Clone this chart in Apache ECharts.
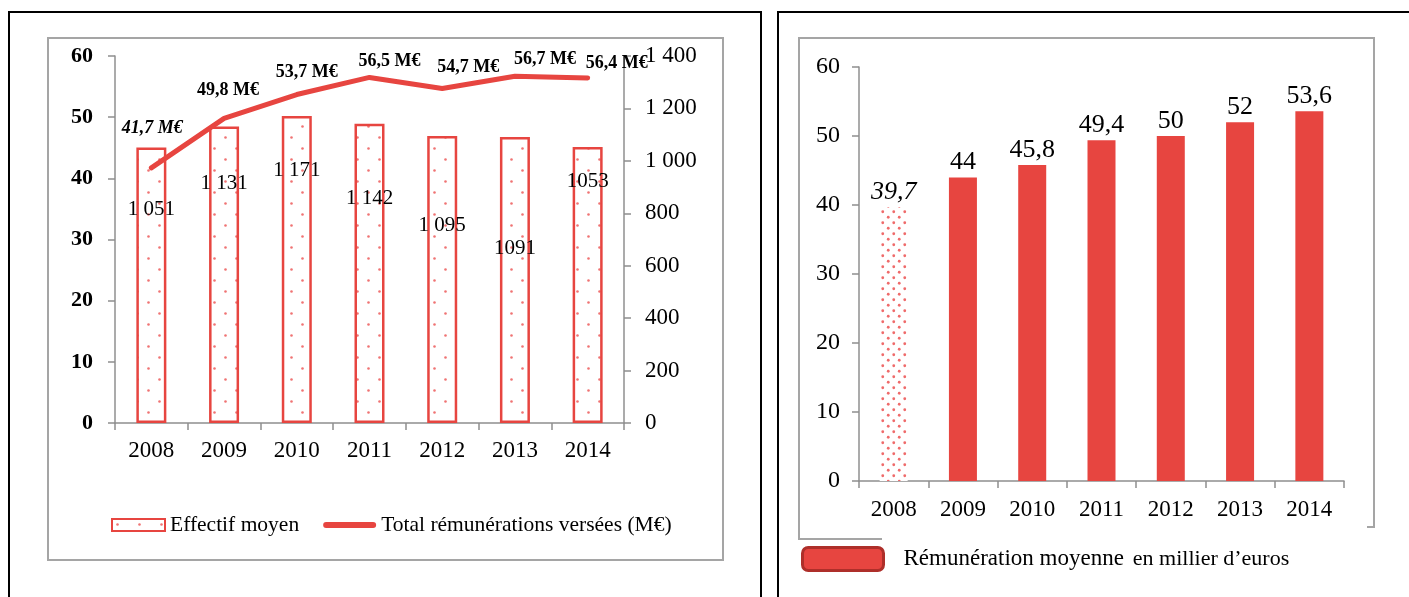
<!DOCTYPE html>
<html>
<head>
<meta charset="utf-8">
<script src="https://cdn.jsdelivr.net/npm/echarts@6/dist/echarts.min.js"></script>
<style>
  html, body { margin: 0; padding: 0; background: #fff; }
  #chart { width: 1409px; height: 597px; }
</style>
</head>
<body>
<div id="chart"></div>
<script>
// ---- Data ----
const years = ['2008', '2009', '2010', '2011', '2012', '2013', '2014'];
const effectifMoyen = [1051, 1131, 1171, 1142, 1095, 1091, 1053];
const effectifLabels = ['1 051', '1 131', '1 171', '1 142', '1 095', '1091', '1053'];
const totalRemunerations = [41.7, 49.8, 53.7, 56.5, 54.7, 56.7, 56.4];
const remunerationMoyenne = [39.7, 44, 45.8, 49.4, 50, 52, 53.6];

const nameEffectif = 'Effectif moyen';
const nameTotal = 'Total rémunérations versées (M€)';
const nameMoyenne = 'Rémunération moyenne en millier d’euros';

// ---- Styling helpers ----
const RED = '#e74540';
const GREY = '#8f8f8f';
const SERIF = '"Liberation Serif", "Times New Roman", serif';

// Dotted fill: white tile with two staggered pink dots
function dotTile(size, r, color) {
  const c = document.createElement('canvas');
  c.width = size; c.height = size;
  const g = c.getContext('2d');
  g.fillStyle = '#fff';
  g.fillRect(0, 0, size, size);
  g.fillStyle = color;
  [[size / 4, size / 4], [3 * size / 4, 3 * size / 4]].forEach(([x, y]) => {
    g.beginPath(); g.arc(x, y, r, 0, Math.PI * 2); g.fill();
  });
  return c;
}
const sparseDots = { image: dotTile(22, 1.3, 'rgba(236,80,80,0.8)'), repeat: 'repeat' };
const denseDots = { image: dotTile(11, 1.4, 'rgba(236,80,80,0.85)'), repeat: 'repeat' };

const fmtComma = v => String(v).replace('.', ',');
const fmtThousands = v => v >= 1000 ? Math.floor(v / 1000) + ' ' + String(v % 1000).padStart(3, '0') : String(v);

// label placement tweaks (pixels)
const barLabelDrop = [51, 46, 43, 64, 79, 100, 24];
const lineLabelShift = [[1, -40], [4, -28], [10, -22], [20, -16], [26, -21], [30, -17], [29, -15]];

const axisLineStyle = { show: true, lineStyle: { color: GREY, width: 1.5 } };
const axisTickStyle = { show: true, length: 7, lineStyle: { color: GREY, width: 1.5 } };

const option = {
  animation: false,
  backgroundColor: '#fff',
  textStyle: { fontFamily: SERIF, color: '#000' },
  graphic: {
    elements: [
      // outer panel borders
      { type: 'rect', silent: true, z: -10, shape: { x: 9, y: 12, width: 752, height: 640 },
        style: { fill: 'none', stroke: '#000', lineWidth: 2 } },
      { type: 'polyline', silent: true, z: -10, shape: { points: [[778, 640], [778, 12], [1420, 12]] },
        style: { fill: 'none', stroke: '#000', lineWidth: 2 } },
      // chart area frames
      { type: 'rect', silent: true, z: -9, shape: { x: 48, y: 38, width: 675, height: 522 },
        style: { fill: 'none', stroke: '#a5a5a5', lineWidth: 2 } },
      { type: 'polyline', silent: true, z: -9,
        shape: { points: [[882, 539], [799, 539], [799, 38], [1374, 38], [1374, 527], [1367, 527]] },
        style: { fill: 'none', stroke: '#a5a5a5', lineWidth: 2 } }
    ]
  },
  grid: [
    { left: 115, right: 785, top: 56, bottom: 174 },
    { left: 859, right: 65, top: 67, bottom: 116 }
  ],
  legend: [
    {
      left: 111, top: 514, padding: 0,
      itemWidth: 53, itemHeight: 12, itemGap: 24,
      textStyle: { fontFamily: SERIF, fontSize: 21.5, color: '#000' },
      data: [
        { name: nameEffectif, icon: 'rect' },
        { name: nameTotal, icon: 'path://M3,0 L50,0 A3,3 0 0 1 50,6 L3,6 A3,3 0 0 1 3,0 Z' }
      ]
    },
    {
      left: 801, top: 546, padding: 0,
      itemWidth: 81, itemHeight: 23,
      icon: 'roundRect',
      itemStyle: { borderColor: '#ae2f2a', borderWidth: 3 },
      formatter: () => '{a|Rémunération moyenne}{b|en millier d’euros}',
      textStyle: {
        fontFamily: SERIF, color: '#000',
        rich: {
          a: { fontFamily: SERIF, fontSize: 23, color: '#000', padding: [0, 0, 0, 15] },
          b: { fontFamily: SERIF, fontSize: 22, color: '#000', padding: [0, 0, 0, 9] }
        }
      },
      data: [nameMoyenne]
    }
  ],
  xAxis: [
    {
      type: 'category', gridIndex: 0, data: years, boundaryGap: true,
      axisLine: axisLineStyle, axisTick: axisTickStyle,
      axisLabel: { fontFamily: SERIF, fontSize: 23, color: '#000', margin: 16 }
    },
    {
      type: 'category', gridIndex: 1, data: years, boundaryGap: true,
      axisLine: axisLineStyle, axisTick: axisTickStyle,
      axisLabel: { fontFamily: SERIF, fontSize: 23, color: '#000', margin: 17 }
    }
  ],
  yAxis: [
    {
      type: 'value', gridIndex: 0, position: 'left', min: 0, max: 60, interval: 10,
      splitLine: { show: false },
      axisLine: axisLineStyle, axisTick: axisTickStyle,
      axisLabel: { fontFamily: SERIF, fontSize: 22, fontWeight: 'bold', color: '#000', margin: 22 }
    },
    {
      type: 'value', gridIndex: 0, position: 'right', min: 0, max: 1400, interval: 200,
      splitLine: { show: false },
      axisLine: axisLineStyle, axisTick: axisTickStyle,
      axisLabel: { fontFamily: SERIF, fontSize: 23, color: '#000', margin: 21, formatter: fmtThousands }
    },
    {
      type: 'value', gridIndex: 1, position: 'left', min: 0, max: 60, interval: 10,
      splitLine: { show: false },
      axisLine: axisLineStyle, axisTick: axisTickStyle,
      axisLabel: { fontFamily: SERIF, fontSize: 24, color: '#000', margin: 19 }
    }
  ],
  series: [
    {
      name: nameEffectif, type: 'bar', xAxisIndex: 0, yAxisIndex: 1,
      barWidth: 30,
      itemStyle: { color: sparseDots, borderColor: RED, borderWidth: 2.5 },
      data: effectifMoyen.map((v, i) => ({
        value: v,
        label: { offset: [0, barLabelDrop[i]] }
      })),
      label: {
        show: true, position: 'insideTop', distance: 0,
        fontFamily: SERIF, fontSize: 21, lineHeight: 22, color: '#000',
        formatter: p => effectifLabels[p.dataIndex]
      },
      z: 2
    },
    {
      name: nameTotal, type: 'line', xAxisIndex: 0, yAxisIndex: 0,
      symbol: 'circle', symbolSize: 2, showSymbol: true,
      lineStyle: { color: RED, width: 5, cap: 'round', join: 'round' },
      itemStyle: { color: RED },
      data: totalRemunerations.map((v, i) => ({
        value: v,
        label: { offset: lineLabelShift[i], fontStyle: i === 0 ? 'italic' : 'normal' }
      })),
      label: {
        show: true, position: 'inside',
        fontFamily: SERIF, fontSize: 18, fontWeight: 'bold', color: '#000',
        formatter: p => fmtComma(p.value) + ' M€'
      },
      z: 5
    },
    {
      name: nameMoyenne, type: 'bar', xAxisIndex: 1, yAxisIndex: 2,
      barWidth: 28,
      itemStyle: { color: RED },
      data: remunerationMoyenne.map((v, i) => i === 0
        ? { value: v, itemStyle: { color: denseDots }, label: { fontStyle: 'italic' } }
        : { value: v }),
      label: {
        show: true, position: 'top', distance: 2,
        fontFamily: SERIF, fontSize: 26, color: '#000',
        formatter: p => fmtComma(p.value)
      }
    }
  ]
};

const chart = echarts.init(document.getElementById('chart'), null, { renderer: 'canvas' });
chart.setOption(option);
</script>
</body>
</html>
